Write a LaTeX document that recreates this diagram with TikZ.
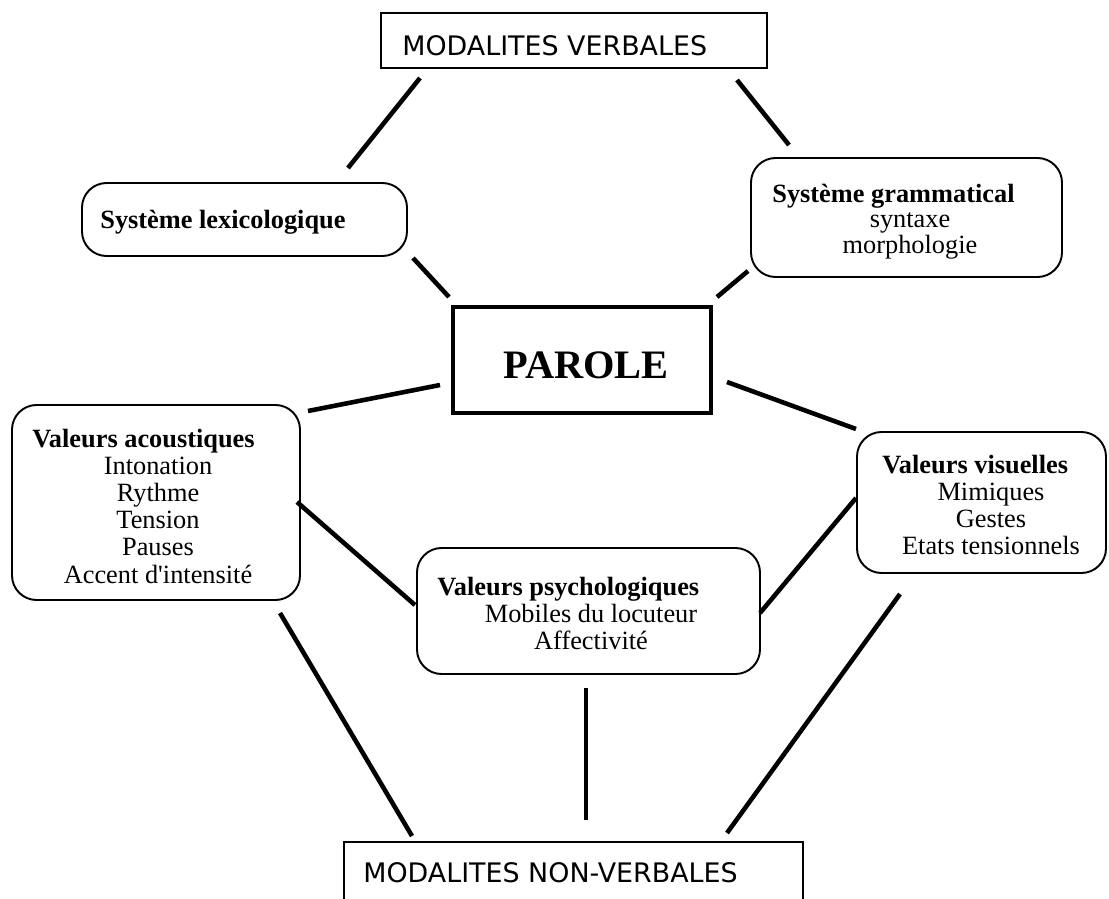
\documentclass[tikz,border=0pt]{standalone}
\usepackage{fontspec}
\setmainfont{Liberation Serif}
\newfontfamily\capsfont{DejaVu Sans}
\usetikzlibrary{fit}
\tikzset{
  frame/.style={draw, line width=1.1pt, inner sep=0pt},
  rframe/.style={draw, line width=1.1pt, inner sep=0pt, rounded corners=14pt},
  core/.style={draw, line width=2.8pt, inner sep=0pt},
  link/.style={line width=2.6pt},
  head/.style={font=\fontsize{15}{15}\selectfont\bfseries, anchor=base west, inner sep=0pt},
  item/.style={font=\fontsize{15}{15}\selectfont, anchor=base, inner sep=0pt},
  caps/.style={font=\capsfont\fontsize{15.3}{15.3}\selectfont, anchor=base west, inner sep=0pt},
}
\begin{document}
\begin{tikzpicture}[x=0.02cm, y=-0.02cm]
  \useasboundingbox (0,0) rectangle (1109,899);
  % boxes
  \node[frame, fit={(381,13) (767,68)}] (mv) {};
  \node[rframe, fit={(82,183) (407,256)}] (lex) {};
  \node[rframe, fit={(751,158) (1062,277)}] (gram) {};
  \node[core, fit={(453,307) (711,413)}] (par) {};
  \node[rframe, fit={(12,405) (300,600)}] (ac) {};
  \node[rframe, fit={(417,548) (760,674)}] (psy) {};
  \node[rframe, fit={(857,432) (1106,573)}] (vis) {};
  \node[frame, fit={(344,842) (803,920)}] (mnv) {};
  % texts
  \node[caps] (mvtext) at (402,55) {MODALITES VERBALES};
  \node[caps] (mnvtext) at (363,882) {MODALITES NON-VERBALES};
  \node[head] (lextext) at (100,228) {Système lexicologique};
  \node[head] (gramtext) at (772,202) {Système grammatical};
  \node[item] (gram1) at (910,227) {syntaxe};
  \node[item] (gram2) at (910,253) {morphologie};
  \node[font=\fontsize{23}{23}\selectfont\bfseries, anchor=base, inner sep=0pt] (partext) at (586,378) {PAROLE};
  \node[head] (actext) at (32,447) {Valeurs acoustiques};
  \foreach \t [count=\i] in {Intonation, Rythme, Tension, Pauses, Accent d\textquotesingle intensité}
    \node[item] (ac\i) at (158,{447+27.2*\i}) {\t};
  \node[head] (psytext) at (437,595) {Valeurs psychologiques};
  \foreach \t [count=\i] in {Mobiles du locuteur, Affectivité}
    \node[item] (psy\i) at (591,{595+27.2*\i}) {\t};
  \node[head] (vistext) at (882,473) {Valeurs visuelles};
  \foreach \t [count=\i] in {Mimiques, Gestes, Etats tensionnels}
    \node[item] (vis\i) at (991,{473+27.2*\i}) {\t};
  % connectors
  \foreach \s/\x/\y/\u/\v in {mvlex/420/78/348/168, mvgram/737/80/789/145,
      lexpar/413/258/449/297, grampar/748/271/717/297,
      parac/440/385/308/411, parvis/727/382/856/429,
      acpsy/297/502/415/605, vispsy/856/498/760/613,
      acmnv/280/613/412/836, psymnv/586/688/586/820, vismnv/900/594/727/833}
  {
    \coordinate (\s-a) at (\x,\y);
    \coordinate (\s-b) at (\u,\v);
    \draw[link] (\s-a) -- (\s-b);
  }
\end{tikzpicture}
\end{document}
